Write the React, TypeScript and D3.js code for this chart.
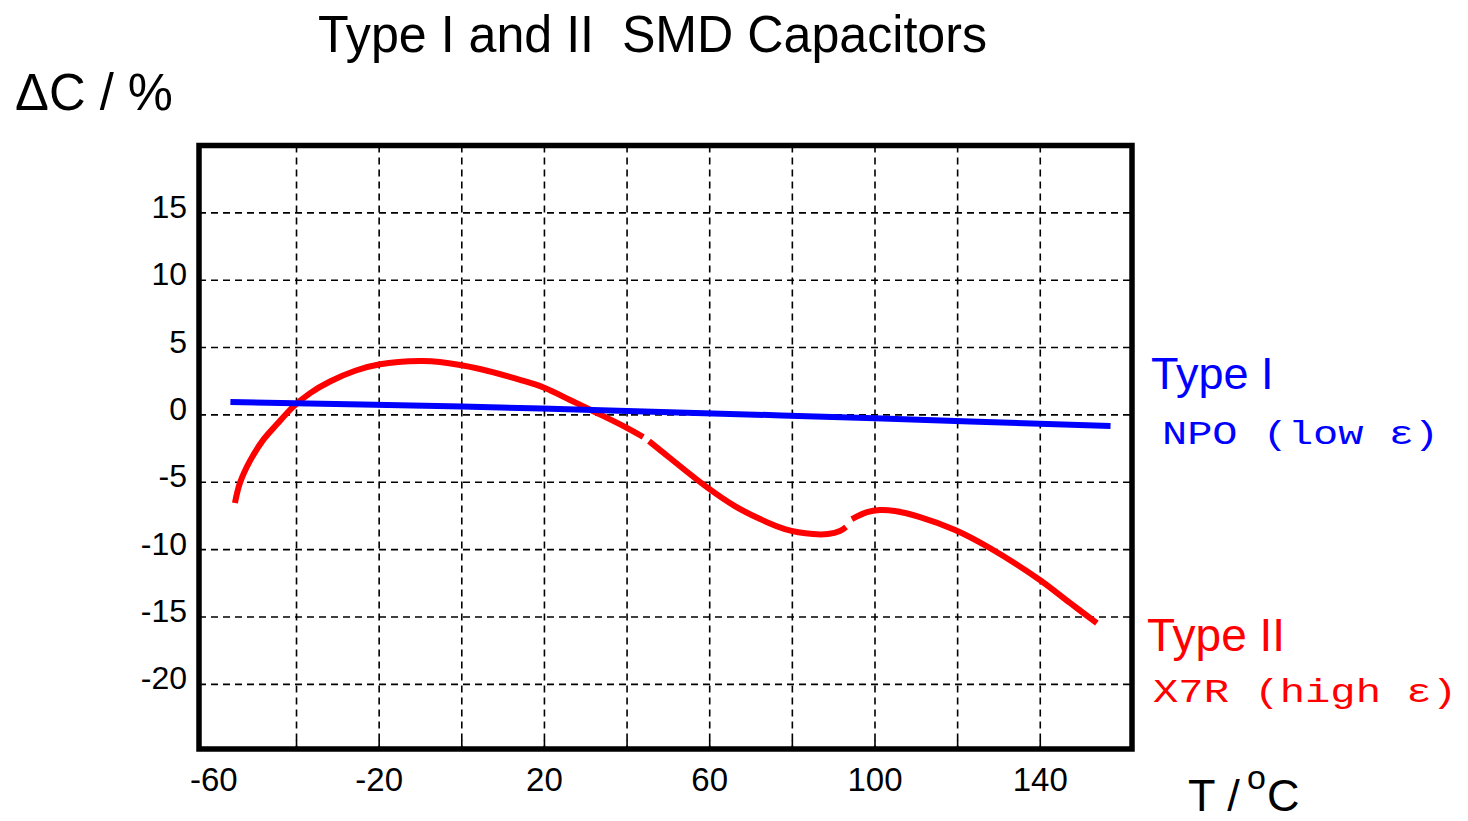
import React from "react";
import * as d3 from "d3";

// ---- data ----
const typeIT = [-56, 0, 40, 100, 157];
const typeIV = [0.95, 0.62, 0.3, -0.25, -0.83];

// Type II (X7R) curve, drawn in three pieces (hand-drawn gaps in the original)
const typeIIseg1T = [-54.9, -53.7, -51.3, -48.1, -44.7, -40.9, -36.7, -31.9, -25.8, -19.8, -10.1, -5.3, 4.4, 14.1, 20.1, 26.2, 32.2, 39.5, 43.9];
const typeIIseg1V = [-6.54, -5.06, -3.43, -1.87, -0.68, 0.58, 1.62, 2.48, 3.28, 3.76, 4.0, 3.93, 3.41, 2.6, 2.0, 1.11, 0.22, -0.89, -1.64];
const typeIIseg2T = [45.3, 48.0, 59.3, 66.1, 72.2, 78.2, 85.0, 88.6, 91.5, 93.0];
const typeIIseg2V = [-1.94, -2.61, -5.36, -6.77, -7.73, -8.47, -8.84, -8.84, -8.62, -8.32];
const typeIIseg3T = [94.4, 98.1, 101.2, 104.8, 110.9, 119.4, 127.8, 139.9, 147.2, 153.7];
const typeIIseg3V = [-7.73, -7.21, -7.06, -7.13, -7.58, -8.54, -9.88, -12.25, -13.96, -15.45];

const xGrid = [-40, -20, 0, 20, 40, 60, 80, 100, 120, 140];
const yGrid = [-20, -15, -10, -5, 0, 5, 10, 15];
const xTickLabels = [-60, -20, 20, 60, 100, 140];
const yTickLabels = [15, 10, 5, 0, -5, -10, -15, -20];

const title = "Type I and II\u00a0\u00a0SMD Capacitors";
const yTitle = "\u0394C / %";
const typeILabel = "Type I";
const typeISub = "NPO (low \u03b5)";
const typeIILabel = "Type II";
const typeIISub = "X7R (high \u03b5)";

// ---- layout ----
const W = 1468;
const H = 821;
const frame = { left: 199, top: 145.5, right: 1132, bottom: 749 };

const x = d3.scaleLinear().domain([-63.6, 162.2]).range([frame.left, frame.right]);
const y = d3.scaleLinear().domain([-24.8, 20]).range([frame.bottom, frame.top]);

const line = d3
  .line<[number, number]>()
  .x((d) => x(d[0]))
  .y((d) => y(d[1]))
  .curve(d3.curveCatmullRom.alpha(0.5));

const zip = (a: number[], b: number[]) => a.map((t, i) => [t, b[i]] as [number, number]);

const SANS = "'Liberation Sans', Arial, Helvetica, sans-serif";
const MONO = "'Liberation Mono', 'Courier New', monospace";

export default function App() {
  const red = "#ff0000";
  const blue = "#0000ff";
  return (
    <svg
      width={W}
      height={H}
      viewBox={`0 0 ${W} ${H}`}
      style={{ position: "absolute", left: 0, top: 0, display: "block", background: "#fff" }}
    >
      <rect x={0} y={0} width={W} height={H} fill="#fff" />
      {/* grid */}
      <g stroke="#000" strokeWidth={1.6} strokeDasharray="7,5" fill="none">
        {xGrid.map((t) => (
          <line key={"vx" + t} x1={x(t)} x2={x(t)} y1={frame.top} y2={frame.bottom} />
        ))}
        {yGrid.map((v) => (
          <line key={"hy" + v} x1={frame.left} x2={frame.right} y1={y(v)} y2={y(v)} />
        ))}
      </g>
      {/* bottom ticks */}
      <g stroke="#000" strokeWidth={1.6}>
        {xGrid.map((t) => (
          <line key={"tk" + t} x1={x(t)} x2={x(t)} y1={frame.bottom} y2={frame.bottom - 9} />
        ))}
      </g>
      {/* curves */}
      <g fill="none" stroke={red} strokeWidth={6} strokeLinecap="butt">
        <path d={line(zip(typeIIseg1T, typeIIseg1V)) || ""} />
        <path d={line(zip(typeIIseg2T, typeIIseg2V)) || ""} />
        <path d={line(zip(typeIIseg3T, typeIIseg3V)) || ""} />
      </g>
      <path d={line(zip(typeIT, typeIV)) || ""} fill="none" stroke={blue} strokeWidth={6} />
      {/* frame */}
      <rect
        x={frame.left}
        y={frame.top}
        width={frame.right - frame.left}
        height={frame.bottom - frame.top}
        fill="none"
        stroke="#000"
        strokeWidth={5.5}
      />
      {/* tick labels */}
      <g fontFamily={SANS} fontSize={32} fill="#000">
        {yTickLabels.map((v) => (
          <text key={"yl" + v} x={187} y={y(v) + 5} textAnchor="end">
            {v}
          </text>
        ))}
      </g>
      <g fontFamily={SANS} fontSize={33} fill="#000">
        {xTickLabels.map((t) => (
          <text key={"xl" + t} x={x(t)} y={791} textAnchor="middle">
            {t}
          </text>
        ))}
      </g>
      {/* titles */}
      <text x={318} y={52} fontFamily={SANS} fontSize={52} textLength={669} lengthAdjust="spacingAndGlyphs" style={{ whiteSpace: "pre" }}>
        {title}
      </text>
      <text x={15} y={110} fontFamily={SANS} fontSize={52} textLength={158} lengthAdjust="spacingAndGlyphs">
        {yTitle}
      </text>
      <text x={1188} y={811} fontFamily={SANS} fontSize={45}>
        T /
      </text>
      <text x={1247} y={789} fontFamily={SANS} fontSize={34}>
        o
      </text>
      <text x={1267} y={811} fontFamily={SANS} fontSize={45}>
        C
      </text>
      {/* series labels */}
      <text x={1151} y={389} fontFamily={SANS} fontSize={45} fill={blue}>
        {typeILabel}
      </text>
      <text x={1162} y={444} fontFamily={MONO} fontSize={34} fill={blue} textLength={277} lengthAdjust="spacingAndGlyphs">
        {typeISub}
      </text>
      <text x={1147} y={651} fontFamily={SANS} fontSize={46} fill={red}>
        {typeIILabel}
      </text>
      <text x={1153} y={702} fontFamily={MONO} fontSize={34} fill={red} textLength={304} lengthAdjust="spacingAndGlyphs">
        {typeIISub}
      </text>
    </svg>
  );
}
